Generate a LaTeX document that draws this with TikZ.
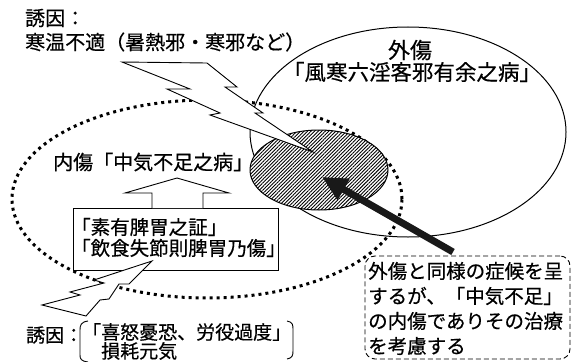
\documentclass[tikz,border=0pt]{standalone}
\usepackage{fontspec}
\newfontfamily\jp[FakeBold=0.5]{Noto Sans CJK JP}
\usetikzlibrary{patterns.meta,arrows.meta,shapes.geometric}
\begin{document}
\begin{tikzpicture}[x=1pt,y=-1pt,
  lbl/.style={font=\jp\fontsize{#1}{#1}\selectfont, inner sep=0pt},
  lbl/.default=20,
  thinline/.style={line width=0.9pt},
  bolt/.style={draw, fill=white, line width=0.9pt, line join=miter},
  ell/.style={ellipse, draw, inner sep=0pt},
]
\useasboundingbox (0,0) rectangle (572,361);
\clip (0,0) rectangle (572,361);

% ellipses
\node[ell, line width=1pt, minimum width=316pt, minimum height=210pt] (outer) at (408,132) {};
\node[ell, line width=3pt, dash pattern=on 3pt off 4pt, minimum width=390pt, minimum height=198pt] (inner) at (207,199) {};
\node[ell, line width=1pt, preaction={fill=white}, pattern={Lines[angle=45,distance=2.5pt,line width=0.9pt]}, minimum width=138pt, minimum height=80pt] (overlap) at (319,170) {};

% upper lightning bolt
\draw[bolt] (122,62) -- (207,63) -- (237,87) -- (225,87) -- (263,113) -- (255,113) -- (313,152)
  -- (210,115) -- (220,113) -- (167,89) -- (190,89) -- cycle;

% black arrow
\coordinate (atail) at (453,252);
\coordinate (atip) at (322,177);
\draw[line width=7pt, black!90, -{Triangle[length=25pt,width=23pt]}] (atail) -- (atip);

% box with causes
\node[draw, thinline, fill=white, minimum width=205pt, minimum height=62pt, inner sep=0pt] (cause) at (175.5,239) {};
\node[lbl=19.5, anchor=west] (t1) at (71,227) {「素有脾胃之証」};
\node[lbl=19.5, anchor=west] (t2) at (71,248) {「飲食失節則脾胃乃傷」};

% hollow up arrow
\draw[thinline, fill=white] (152,208) -- (152,193) -- (125,193) -- (177,178) -- (229,193) -- (203,193) -- (203,208);

% lower lightning bolt
\draw[bolt] (152,261) -- (94,280) -- (104,283) -- (70,292) -- (80,295) -- (42,305) -- (86,316)
  -- (100,300) -- (109,299) -- (119,284) -- (129,284) -- cycle;

% note box
\node[draw, line width=0.9pt, dash pattern=on 5pt off 3pt, rounded corners=10pt, fill=white, minimum width=205pt, minimum height=103pt, inner sep=0pt] (note) at (467.5,307.5) {};
\node[lbl=19.5, anchor=west] (n1) at (368,271) {外傷と同様の症候を呈};
\node[lbl=19.5, anchor=west] (n2) at (368,296) {するが、「中気不足」};
\node[lbl=19.5, anchor=west] (n3) at (368,321) {の内傷でありその治療};
\node[lbl=19.5, anchor=west] (n4) at (368,346) {を考慮する};

% texts
\node[lbl, anchor=west] (y1) at (25,18) {誘因：};
\node[lbl, anchor=west] (y1a) at (25,42) {寒温不適（暑熱邪・寒邪など）};
\node[lbl=22] (gl) at (410,50) {外傷};
\node[lbl=21.5] (gl2) at (412,72) {「風寒六淫客邪有余之病」};
\node[lbl, anchor=west] (nl) at (53,162) {内傷「中気不足之病」};

% bottom cause
\node[lbl=19, anchor=west] (y2) at (26,335) {誘因：};
\node[lbl=19, anchor=west] (y2a) at (82,332) {「喜怒憂恐、労役過度」};
\node[lbl=19, anchor=west] (y2b) at (82,351) {　損耗元気};
\draw[thinline] (88,321) .. controls (81,322) and (80,325) .. (80,330) -- (80,355) .. controls (80,359) and (81,361) .. (88,362);
\draw[thinline] (287,321) .. controls (293,322) and (293,325) .. (293,330) -- (293,351) .. controls (293,356) and (292,358) .. (287,359);
\end{tikzpicture}
\end{document}
